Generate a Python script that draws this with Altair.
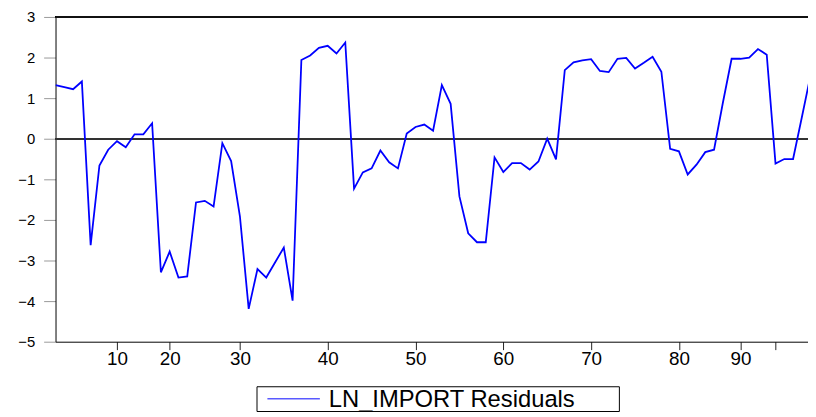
import altair as alt
import pandas as pd

residuals = [
    1.32, 1.27, 1.22, 1.41, -2.62, -0.66, -0.27, -0.06, -0.21, 0.11,
    0.11, 0.38, -3.29, -2.78, -3.42, -3.39, -1.57, -1.53, -1.67, -0.11,
    -0.55, -1.91, -4.19, -3.21, -3.42, -3.05, -2.68, -3.99, 1.94, 2.05,
    2.24, 2.29, 2.10, 2.37, -1.23, -0.83, -0.73, -0.29, -0.58, -0.73,
    0.13, 0.29, 0.35, 0.20, 1.32, 0.86, -1.42, -2.33, -2.55, -2.55,
    -0.46, -0.82, -0.60, -0.60, -0.76, -0.56, 0.00, -0.51, 1.69, 1.88,
    1.93, 1.96, 1.67, 1.64, 1.97, 1.99, 1.73, 1.87, 2.02, 1.65,
    -0.25, -0.31, -0.88, -0.64, -0.33, -0.27, 0.88, 1.97, 1.97, 2.00,
    2.21, 2.07, -0.61, -0.50, -0.50, 0.53, 1.57,
]
obs_index = list(range(len(residuals)))

# Observation tick positions and their labels
tick_positions = [7, 13, 21, 31, 41, 51, 61, 71, 78, 82]
tick_labels = ["10", "20", "30", "40", "50", "60", "70", "80", "90", ""]

series_name = "LN_IMPORT Residuals"
line_color = "#0000ff"

df = pd.DataFrame({"obs": obs_index, "resid": residuals, "series": series_name})
legend_df = pd.DataFrame({"series": [series_name]})

label_expr = "".join(
    f"datum.value == {p} ? '{l}' : " for p, l in zip(tick_positions, tick_labels)
) + "''"

FONT = "Liberation Sans"

x_scale = alt.Scale(domain=[0, 85.7], nice=False, zero=False)
y_scale = alt.Scale(domain=[-5, 3], nice=False)

line = alt.Chart(df).mark_line(strokeWidth=1.8, clip=True, color=line_color).encode(
    x=alt.X(
        "obs:Q",
        scale=x_scale,
        axis=alt.Axis(
            values=tick_positions,
            labelExpr=label_expr,
            title=None,
            grid=False,
            domainColor="black",
            domainWidth=1,
            tickColor="#222222",
            tickSize=8,
            labelPadding=0,
            labelFontSize=19,
            labelFont=FONT,
            labelColor="black",
            labelFlush=False,
            labelOverlap=False,
        ),
    ),
    y=alt.Y(
        "resid:Q",
        scale=y_scale,
        axis=alt.Axis(
            values=[-5, -4, -3, -2, -1, 0, 1, 2, 3],
            title=None,
            grid=False,
            domainColor="black",
            domainWidth=1,
            tickColor="#999999",
            tickSize=12,
            labelPadding=9,
            labelFontSize=15,
            labelFont=FONT,
            labelColor="black",
            labelFlush=False,
            labelOverlap=False,
        ),
    ),
    detail="series:N",
)

zero_line = alt.Chart(df).mark_rule(color="#333333", strokeWidth=1, yOffset=0.5).encode(
    y=alt.datum(0, scale=y_scale)
)
top_line = alt.Chart(df).mark_rule(color="#111111", strokeWidth=1, yOffset=0.5).encode(
    y=alt.datum(3, scale=y_scale)
)

# Legend box (drawn below the plot area)
legend_box = alt.Chart(legend_df).mark_rect(
    fill="white", stroke="black", strokeWidth=1
).encode(
    x=alt.value(203.5), x2=alt.value(569.5), y=alt.value(373.5), y2=alt.value(398.5)
)
legend_symbol = alt.Chart(legend_df).mark_rule(
    color=line_color, strokeWidth=1.5, opacity=0.65
).encode(
    x=alt.value(214), x2=alt.value(267), y=alt.value(385.5)
)
legend_text = alt.Chart(legend_df).mark_text(
    align="left", baseline="middle", font=FONT, fontSize=24, color="black"
).encode(
    x=alt.value(276), y=alt.value(386.5), text="series:N"
)

chart = (
    alt.layer(zero_line, top_line, line, legend_box, legend_symbol, legend_text)
    .properties(
        width=760,
        height=328,
        autosize=alt.AutoSizeParams(type="none"),
        padding={"left": 48, "top": 7, "right": 0, "bottom": 73},
        background="white",
    )
    .configure_view(stroke=None)
)

chart.save("out.html", embed_options={"renderer": "svg", "actions": False})
